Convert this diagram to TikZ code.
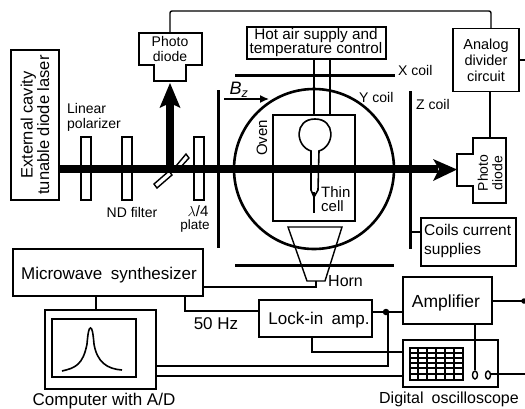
\documentclass[tikz,border=0pt]{standalone}
\usepackage{fontspec}
\usetikzlibrary{arrows.meta}
\setmainfont{Liberation Sans}
\tikzset{
 x=1pt,y=-1pt,
 wire/.style={draw=black,line width=1.4pt},
 box/.style={draw=black,line width=1.7pt,fill=white},
 coil/.style={draw=black,line width=3pt},
 lbl/.style={font=\fontsize{14}{14.5}\selectfont,inner sep=0pt,align=center},
 lblb/.style={font=\fontsize{17}{18}\selectfont,inner sep=0pt,align=center},
 plate/.style={draw=black,line width=1.4pt,fill=white},
 beam/.style={draw=black,line width=8pt},
 dot/.style={circle,fill=black,inner sep=0pt,minimum size=6.5pt}
}
\begin{document}
\begin{tikzpicture}
\useasboundingbox (0,0) rectangle (525,408);
% coordinates
\coordinate (wR) at (525,60);
\coordinate (sR) at (525,374);
% plates
\draw[plate] (81,137) rectangle (91,200);
\draw[plate] (122,137) rectangle (132,200);
\draw[plate] (194,137) rectangle (204,200);
\draw[plate] (154,184) -- (157,188) -- (172,175) -- (169,171) -- cycle;
\draw[plate] (176,166) -- (179,169) -- (189,158) -- (186,154) -- cycle;
% beam
\draw[beam] (59,169) -- (438,169);
\fill (433,159) -- (457,169.5) -- (433,181) -- (439,169) -- cycle;
\draw[beam] (170,172) -- (170,102);
\fill (159.5,108) -- (170,83) -- (180.5,108) -- (170,103) -- cycle;
% oven
\draw[wire] (273,115) rectangle (355,221);
\draw[line width=2.6pt] (314,169) circle (80);
\draw[coil] (235,75) -- (395,75);
\draw[coil] (235,265) -- (394,265);
\draw[coil] (218,90) -- (218,248);
\draw[coil] (410,91) -- (410,249);
% cell
\draw[line width=1.6pt,fill=white] (311,151) .. controls (295,146) and (294,119) .. (315,119) .. controls (336,119) and (335,146) .. (319,151) -- (318,190) -- (314,197) -- (311,190) -- cycle;
\draw[line width=2.2pt] (314,192) -- (314,213);
\draw[beam] (218,169) -- (438,169);
% horn
\draw[wire] (288,227) -- (342,227) -- (325,281) -- (307,281) -- cycle;
% laser
\node[box,minimum width=48pt,minimum height=150pt,anchor=center] (laser) at (35,125) {};
\node[lbl,rotate=90,font=\fontsize{16.5}{16.5}\selectfont] at (35,125) {External cavity\\tunable diode laser};
% photodiode top
\node[inner sep=0pt] (pd1) at (170,33) {};
\draw[box] (139,33) -- (202,33) -- (202,65) -- (186,65) -- (186,81) -- (154,81) -- (154,65) -- (139,65) -- cycle;
\node[lbl] at (170,49) {Photo\\diode};
% right photodiode
\draw[box] (457,154) -- (473,154) -- (473,138) -- (506,138) -- (506,203) -- (473,203) -- (473,186) -- (457,186) -- cycle;
\node[lbl,rotate=90] at (490,173) {Photo\\diode};
% hot air
\node[box,minimum width=139pt,minimum height=32pt] (hot) at (316.5,43) {};
\node[lbl,font=\fontsize{15.3}{14.5}\selectfont] at (316,42.5) {Hot air supply and\\temperature control};
\draw[wire] (314,59) -- (314,115);
\draw[wire] (330,59) -- (330,115);
% analog
\node[box,minimum width=66pt,minimum height=63pt] (ana) at (486,60) {};
\node[lbl,font=\fontsize{14.5}{16}\selectfont] at (486,60) {Analog\\divider\\circuit};
\draw[wire,rounded corners=2pt] (170,33) -- (170,11) -- (491,11) -- (491,28);
\draw[wire] (519,60) -- (wR);
\draw[wire] (490,91) -- (490,138);
% labels
\node[lbl,anchor=west] at (67,108) {Linear};
\node[lbl,anchor=west] at (67,125) {polarizer};
\node[lbl] at (132,212) {ND filter};
\node[lbl,font=\fontsize{15}{15}\selectfont] at (198,211.5) {$\lambda$/4};
\node[lbl,font=\fontsize{13.5}{14}\selectfont] at (195,226) {plate};
\node[lbl,font=\fontsize{18}{18}\selectfont\itshape] at (239,90) {B\textsubscript{z}};
\draw[wire,-{Latex[length=9pt,width=8pt]}] (224,99) -- (269,99);
\node[lbl,rotate=90,anchor=center,font=\fontsize{15}{15}\selectfont] at (262,138) {Oven};
\node[lbl,align=left,anchor=west,font=\fontsize{15}{14.5}\selectfont] at (321,199) {Thin\\cell};
\node[lbl,anchor=west] at (398,70) {X coil};
\node[lbl,anchor=west] at (359,97) {Y coil};
\node[lbl,anchor=west] at (416,104) {Z coil};
\node[lbl,anchor=west,font=\fontsize{16}{16}\selectfont] at (328,281) {Horn};
% coils supplies
\node[box,minimum width=95pt,minimum height=48pt] (coils) at (468.5,242) {};
\node[lbl,align=left,anchor=west,font=\fontsize{15.5}{19}\selectfont] at (424,241) {Coils current\\supplies};
\draw[wire] (410,232) -- (421,232);
% lower
\node[box,minimum width=190pt,minimum height=47pt] (mw) at (108,272.5) {};
\node[lblb] at (109,275) {Microwave\enspace synthesizer};
\node[box,minimum width=111pt,minimum height=79pt] (comp) at (100.5,349.5) {};
\draw[box] (52,319) rectangle (136,377);
\draw[wire,line width=1.6pt] (62,371) .. controls (75,368) and (83,365) .. (87,344) .. controls (88,332) and (89,328) .. (90.5,328) .. controls (92,328) and (93,332) .. (94,344) .. controls (97,362) and (107,369) .. (122,370);
\draw[wire] (96,296) -- (96,310);
\node[lblb] at (104,401) {Computer with A/D};
\node[box,minimum width=113pt,minimum height=37pt] (lock) at (315.5,318.5) {};
\node[lblb] at (319,320) {Lock-in\enspace amp.};
\node[lblb] at (216,324) {50 Hz};
\node[box,minimum width=89pt,minimum height=47pt] (amp) at (447.5,300.5) {};
\node[lblb,font=\fontsize{17.5}{18}\selectfont] at (446,303) {Amplifier};
\node[box,minimum width=95pt,minimum height=47pt] (scope) at (450.5,363.5) {};
\draw[wire] (410,348) rectangle (463,380);
\foreach \y in {353,358,363,368,374} \draw[wire] (410,\y) -- (463,\y);
\foreach \x in {418,427,436,445,454} \draw[wire] (\x,348) -- (\x,380);
\node[lblb,font=\fontsize{16}{17}\selectfont] at (449,399) {Digital\enspace oscilloscope};
% wires
\draw[wire] (203,287) -- (316,287) -- (316,281);
\draw[wire] (185,296) -- (185,311) -- (259,311);
\draw[wire] (156,366) -- (388,366) -- (388,312);
\draw[wire] (156,376) -- (403,376);
\draw[wire] (312,337) -- (312,352) -- (403,352);
\draw[wire] (372,312) -- (403,312);
\node[dot] at (386,312) {};
\draw[wire] (492,301) -- (525,301);
\node[dot,minimum size=5.5pt] at (524,301) {};
\draw[wire] (475,324) -- (475,370);
\draw[wire,fill=white] (475,375) ellipse (2.5 and 4);
\draw[wire,fill=white] (488,375) ellipse (2.5 and 4);
\draw[wire] (491,374) -- (sR);
\end{tikzpicture}
\end{document}
